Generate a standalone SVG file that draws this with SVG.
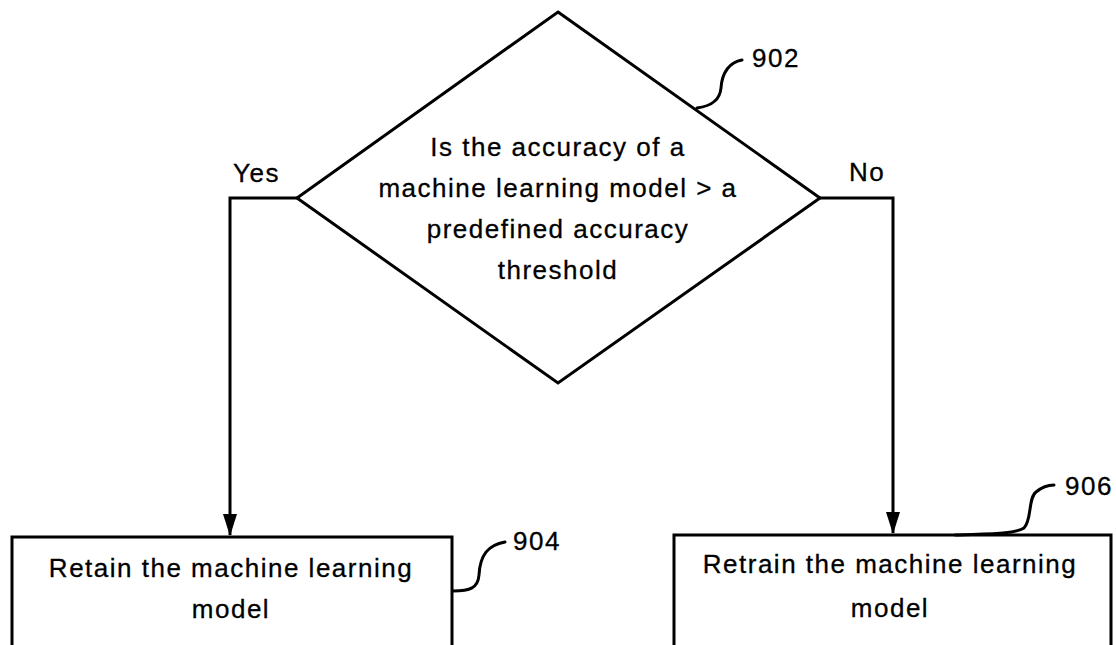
<svg xmlns="http://www.w3.org/2000/svg" width="1116" height="645" viewBox="0 0 1116 645">
<style>
  .shape { fill: #fff; stroke: #000; stroke-width: 3; }
  .line { fill: none; stroke: #000; stroke-width: 3; }
  .lead { fill: none; stroke: #000; stroke-width: 3; stroke-linecap: round; }
  text { font-family: "Liberation Sans", Arial, sans-serif; font-size: 26px; letter-spacing: 1.5px; fill: #000; stroke: #000; stroke-width: 0.3; }
  .c { text-anchor: middle; }
</style>
<defs>
  <marker id="arr" markerWidth="22" markerHeight="14" refX="21" refY="7" orient="auto" markerUnits="userSpaceOnUse" viewBox="0 0 22 14">
    <path d="M0,0 L22,7 L0,14 Z" fill="#000"/>
  </marker>
</defs>
<rect width="1116" height="645" fill="#fff"/>
<g id="connectors">
  <path class="line" d="M297,198 H230 V535" marker-end="url(#arr)"/>
  <path class="line" d="M820,198 H893 V533" marker-end="url(#arr)"/>
</g>
<g id="decision-902">
  <polygon class="shape" points="558,12 820,198 558,383 297,198"/>
  <text class="c" x="558" y="156">Is the accuracy of a</text>
  <text class="c" x="558" y="197">machine learning model &gt; a</text>
  <text class="c" x="558" y="238">predefined accuracy</text>
  <text class="c" x="558" y="279">threshold</text>
  <path class="lead" d="M697,108 C712,106 720,100 721,88 C722,72 730,62 742,60"/>
  <text x="752" y="67">902</text>
</g>
<g id="label-yes"><text x="233" y="182">Yes</text></g>
<g id="label-no"><text x="849" y="181">No</text></g>
<g id="box-904">
  <rect class="shape" x="12" y="537" width="440" height="130"/>
  <text class="c" x="231" y="577">Retain the machine learning</text>
  <text class="c" x="231" y="618">model</text>
  <path class="lead" d="M453,591 C470,591 478,588 479,575 C480,555 488,545 505,542"/>
  <text x="513" y="550">904</text>
</g>
<g id="box-906">
  <rect class="shape" x="674" y="535" width="437" height="130"/>
  <text class="c" x="890" y="573">Retrain the machine learning</text>
  <text class="c" x="890" y="617">model</text>
  <path class="lead" d="M955,535 C990,534 1015,534 1024,528 C1032,520 1028,498 1036,492 C1042,487 1047,485 1054,485"/>
  <text x="1065" y="495">906</text>
</g>
</svg>
